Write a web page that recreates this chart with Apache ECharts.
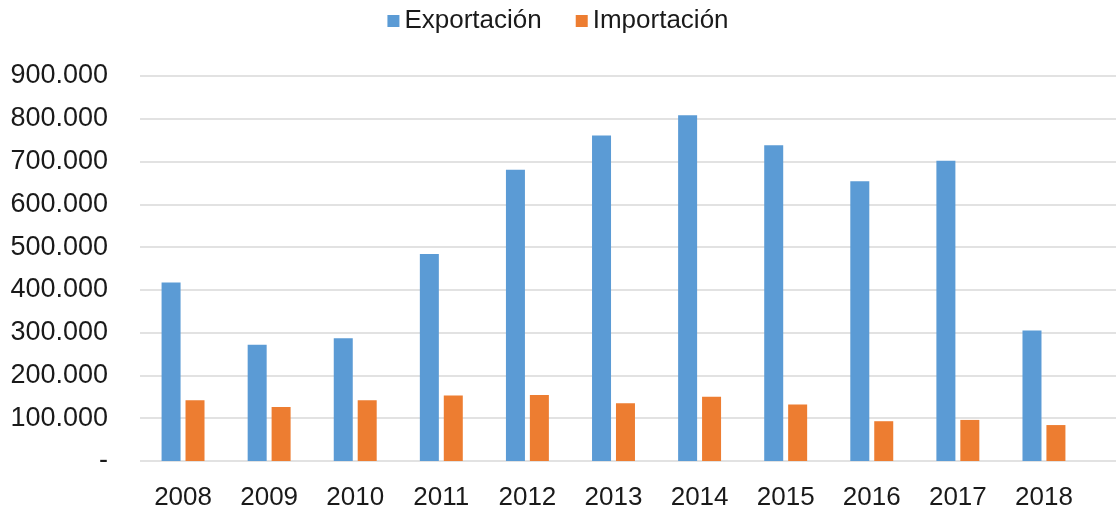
<!DOCTYPE html>
<html>
<head>
<meta charset="utf-8">
<script src="https://cdn.jsdelivr.net/npm/echarts@6/dist/echarts.min.js"></script>
<style>
  html, body { margin: 0; padding: 0; background: #fff; }
  #main { width: 1116px; height: 511px; }
</style>
</head>
<body>
<div id="main"></div>
<script>
const years = ['2008', '2009', '2010', '2011', '2012', '2013', '2014', '2015', '2016', '2017', '2018'];
const exportacion = [417000, 272000, 287000, 484000, 681000, 761000, 808000, 738000, 654000, 702000, 305000];
const importacion = [142000, 126000, 142000, 153000, 154000, 135000, 150000, 132000, 93000, 96000, 84000];

const font = '"Liberation Sans", Arial, sans-serif';

function fmt(v) {
    if (v === 0) return '-';
    return String(v).replace(/\B(?=(\d{3})+(?!\d))/g, '.');
}

const chart = echarts.init(document.getElementById('main'));

chart.setOption({
    animation: false,
    backgroundColor: '#fff',
    textStyle: { fontFamily: font },
    legend: {
        top: 3,
        left: 'center',
        itemWidth: 12,
        itemHeight: 12,
        itemGap: 34,
        icon: 'rect',
        textStyle: { fontSize: 26, color: '#1a1a1a', fontFamily: font },
        data: ['Exportación', 'Importación']
    },
    grid: [
        { left: 140, right: 29, top: 76, bottom: 50 },
        { left: 140, right: 0, top: 76, bottom: 50 }
    ],
    xAxis: [
        {
            type: 'category', gridIndex: 0, data: years,
            axisTick: { show: false },
            axisLine: { show: false },
            axisLabel: { fontSize: 26, color: '#1a1a1a', margin: 24, fontFamily: font }
        },
        { type: 'value', gridIndex: 1, show: false, min: 0, max: 1 }
    ],
    yAxis: [
        {
            type: 'value', gridIndex: 0, min: 0, max: 900000, interval: 100000,
            splitLine: { show: false },
            axisLine: { show: false },
            axisTick: { show: false },
            axisLabel: { fontSize: 27, color: '#1a1a1a', margin: 32, formatter: fmt, fontFamily: font }
        },
        {
            type: 'value', gridIndex: 1, min: 0, max: 900000, interval: 100000,
            axisLine: { show: false },
            axisTick: { show: false },
            axisLabel: { show: false },
            splitLine: { lineStyle: { color: '#d9d9d9', width: 1.5 } }
        }
    ],
    series: [
        {
            name: 'Exportación', type: 'bar', xAxisIndex: 0, yAxisIndex: 0,
            data: exportacion, barWidth: 19, barGap: '26%',
            itemStyle: { color: '#5b9bd5' }
        },
        {
            name: 'Importación', type: 'bar', xAxisIndex: 0, yAxisIndex: 0,
            data: importacion, barWidth: 19, barGap: '26%',
            itemStyle: { color: '#ed7d31' }
        }
    ]
});

window.addEventListener('resize', () => chart.resize());
</script>
</body>
</html>
